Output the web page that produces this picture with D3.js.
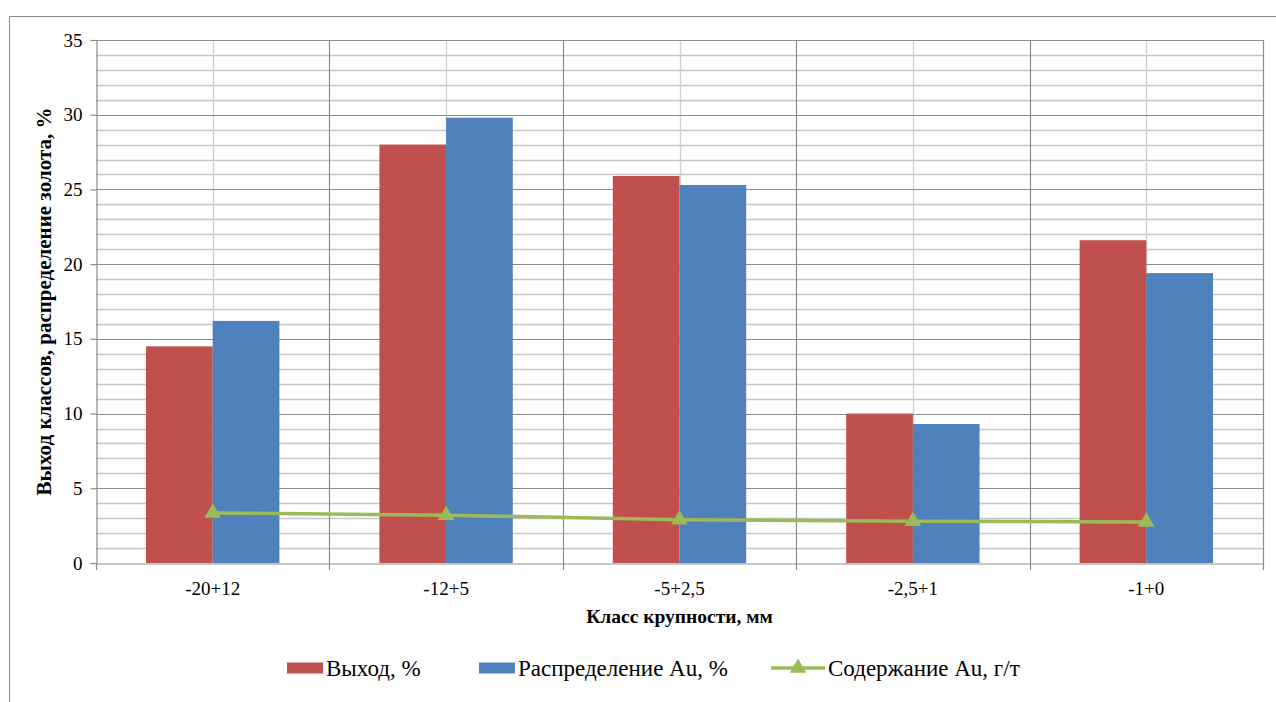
<!DOCTYPE html>
<html lang="ru">
<head>
<meta charset="utf-8">
<script src="https://cdn.jsdelivr.net/npm/d3@7"></script>
<style>
  html, body { margin: 0; padding: 0; background: #fff; }
  svg { display: block; }
  svg text { font-family: "Liberation Serif", "Times New Roman", serif; fill: #000; }
</style>
</head>
<body>
<svg id="chart" width="1276" height="702"></svg>
<script>
// Size classes (mm)
const categories = ["-20+12", "-12+5", "-5+2,5", "-2,5+1", "-1+0"];
// Yield of classes, %
const yieldPct = [14.5, 28.0, 25.9, 10.0, 21.6];
// Gold distribution, %
const auDistribution = [16.2, 29.8, 25.3, 9.3, 19.4];
// Gold content, g/t
const auContent = [3.35, 3.2, 2.9, 2.8, 2.75];
// Y axis ticks
const yTicks = [0, 5, 10, 15, 20, 25, 30, 35];

const seriesNames = ["Выход, %", "Распределение Au, %", "Содержание Au, г/т"];
const colors = { yield: "#c0504d", dist: "#4f81bd", content: "#9bbb59" };

const svg = d3.select("#chart");
const W = 1276, H = 702;
const plot = { left: 96, top: 40, right: 1263, bottom: 563 };
const serif = "'Liberation Serif', 'Times New Roman', serif";

// Outer chart frame (continues past the page edge)
svg.append("path")
  .attr("d", `M9.5,${H} V16.5 H${W}`)
  .attr("fill", "none").attr("stroke", "#878787").attr("stroke-width", 1);

const x0 = d3.scaleBand().domain(categories).range([plot.left, plot.right]).paddingInner(0).paddingOuter(0);
const bw = x0.bandwidth();
const gap = bw * 1.5 / 3.5;
const x1 = d3.scaleBand().domain(["yield", "dist"]).range([gap / 2, bw - gap / 2]);
const y = d3.scaleLinear().domain([0, 35]).range([plot.bottom, plot.top]);

const grid = svg.append("g");
// Minor horizontal grid (every 1 unit)
grid.selectAll("line.hmin").data(d3.range(0, 36).filter(v => v % 5 !== 0)).join("line")
  .attr("x1", plot.left).attr("x2", plot.right)
  .attr("y1", d => Math.round(y(d)) + 0.5).attr("y2", d => Math.round(y(d)) + 0.5)
  .attr("stroke", "#c6c6c6").attr("stroke-width", 1.3);
// Vertical minor grid at category centres
grid.selectAll("line.vmin").data(categories).join("line")
  .attr("x1", d => Math.round(x0(d) + bw / 2) + 0.5).attr("x2", d => Math.round(x0(d) + bw / 2) + 0.5)
  .attr("y1", plot.top).attr("y2", plot.bottom)
  .attr("stroke", "#cfcfcf").attr("stroke-width", 1.3);
// Vertical major grid at category boundaries
grid.selectAll("line.vmaj").data(categories.slice(1).concat(["__end"])).join("line")
  .attr("x1", d => d === "__end" ? plot.right + 0.5 : Math.round(x0(d)) + 0.5)
  .attr("x2", d => d === "__end" ? plot.right + 0.5 : Math.round(x0(d)) + 0.5)
  .attr("y1", plot.top).attr("y2", plot.bottom)
  .attr("stroke", "#8c8c8c").attr("stroke-width", 1.2);
// Major horizontal grid (every 5 units)
grid.selectAll("line.hmaj").data(yTicks.filter(v => v > 0)).join("line")
  .attr("x1", plot.left).attr("x2", plot.right)
  .attr("y1", d => Math.round(y(d)) + 0.5).attr("y2", d => Math.round(y(d)) + 0.5)
  .attr("stroke", "#8c8c8c").attr("stroke-width", 1.2);

// Bars
const rows = categories.map((c, i) => ({ c, yield: yieldPct[i], dist: auDistribution[i] }));
const barG = svg.append("g");
["yield", "dist"].forEach(key => {
  barG.selectAll(`rect.${key}`).data(rows).join("rect")
    .attr("class", key)
    .attr("x", d => x0(d.c) + x1(key))
    .attr("width", x1.bandwidth())
    .attr("y", d => y(d[key]))
    .attr("height", d => y(0) - y(d[key]))
    .attr("fill", colors[key]);
});

// Y axis
const yAxis = svg.append("g").attr("transform", `translate(${plot.left + 0.5},0)`)
  .call(d3.axisLeft(y).tickValues(yTicks).tickSize(6).tickPadding(8).tickFormat(d3.format("d")))
  .attr("font-family", serif).attr("font-size", 19);
yAxis.select(".domain").attr("stroke", "#8c8c8c").attr("stroke-width", 1.2);
yAxis.selectAll(".tick line").attr("stroke", "#8c8c8c").attr("stroke-width", 1.2);
yAxis.selectAll(".tick text").style("font-family", serif).style("font-size", "19px");

// X axis
const xAxis = svg.append("g").attr("transform", `translate(0,${plot.bottom + 0.5})`)
  .call(d3.axisBottom(x0).tickSize(0).tickPadding(18))
  .attr("font-family", serif).attr("font-size", 19);
xAxis.select(".domain").attr("stroke", "#8c8c8c").attr("stroke-width", 1.2);
xAxis.selectAll(".tick text").style("font-family", serif).style("font-size", "19px");
// Tick marks at category boundaries
svg.append("g").selectAll("line").data(d3.range(categories.length + 1)).join("line")
  .attr("x1", i => Math.round(plot.left + i * bw) + 0.5).attr("x2", i => Math.round(plot.left + i * bw) + 0.5)
  .attr("y1", plot.bottom).attr("y2", plot.bottom + 7)
  .attr("stroke", "#8c8c8c").attr("stroke-width", 1.2);

// Gold content line with triangle markers
const pts = categories.map((c, i) => ({ x: x0(c) + bw / 2, v: auContent[i] }));
svg.append("path")
  .datum(pts)
  .attr("d", d3.line().x(d => d.x).y(d => y(d.v)))
  .attr("fill", "none").attr("stroke", colors.content).attr("stroke-width", 3.5);
const tri = d3.symbol().type(d3.symbolTriangle).size(120);
svg.append("g").selectAll("path").data(pts).join("path")
  .attr("transform", d => `translate(${d.x},${y(d.v)})`)
  .attr("d", tri)
  .attr("fill", colors.content);

// Axis titles
svg.append("text")
  .attr("transform", `translate(51,${(plot.top + plot.bottom) / 2}) rotate(-90)`)
  .attr("text-anchor", "middle")
  .attr("font-size", 21).attr("font-weight", "bold")
  .text("Выход классов, распределение золота, %");
svg.append("text")
  .attr("x", (plot.left + plot.right) / 2).attr("y", 623)
  .attr("text-anchor", "middle")
  .attr("font-size", 19.5).attr("font-weight", "bold")
  .text("Класс крупности, мм");

// Legend
const legend = svg.append("g").attr("font-size", 23);
const legendItems = [
  { name: seriesNames[0], type: "rect", color: colors.yield, x: 287 },
  { name: seriesNames[1], type: "rect", color: colors.dist, x: 479 },
  { name: seriesNames[2], type: "line", color: colors.content, x: 771 }
];
const ly = 668;
legendItems.forEach(it => {
  const g = legend.append("g");
  if (it.type === "rect") {
    g.append("rect").attr("x", it.x).attr("y", ly - 5.5).attr("width", 36).attr("height", 11).attr("fill", it.color);
  } else {
    g.append("line").attr("x1", it.x).attr("x2", it.x + 54).attr("y1", ly).attr("y2", ly)
      .attr("stroke", it.color).attr("stroke-width", 3.5);
    g.append("path").attr("transform", `translate(${it.x + 27},${ly})`).attr("d", tri).attr("fill", it.color);
  }
  g.append("text").attr("x", it.x + (it.type === "rect" ? 39 : 57)).attr("y", ly + 8).text(it.name);
});
</script>
</body>
</html>
